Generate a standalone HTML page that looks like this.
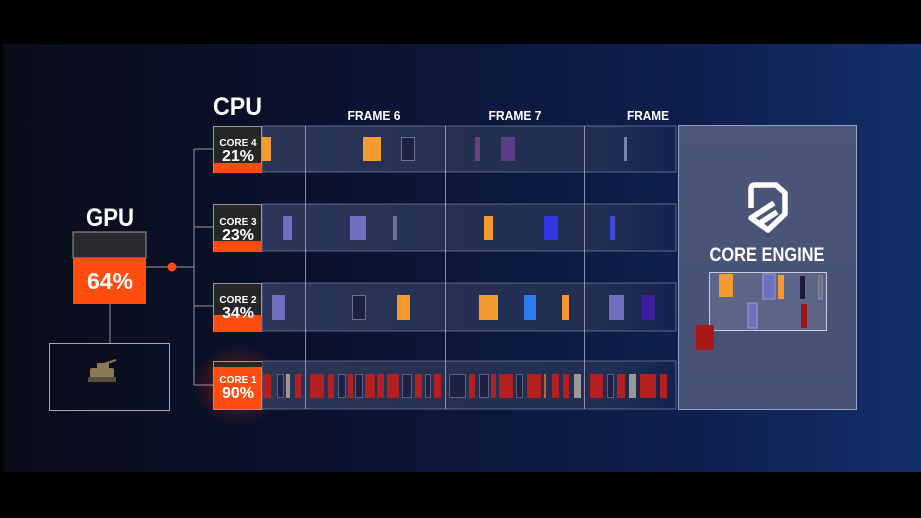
<!DOCTYPE html>
<html><head><meta charset="utf-8"><style>
html,body{margin:0;padding:0;background:#000;}
svg{display:block;font-family:"Liberation Sans",sans-serif;}
</style></head><body>
<svg width="921" height="518" viewBox="0 0 921 518" xmlns="http://www.w3.org/2000/svg">
<defs>
<linearGradient id="bg" x1="0" y1="0" x2="1" y2="0">
<stop offset="0" stop-color="#0a0c18"/><stop offset="0.35" stop-color="#0b1230"/><stop offset="0.75" stop-color="#0f1f4e"/><stop offset="1" stop-color="#14306a"/>
</linearGradient>
<linearGradient id="row" x1="0" y1="0" x2="1" y2="0">
<stop offset="0" stop-color="#2e3a5c" stop-opacity="0.9"/><stop offset="0.85" stop-color="#2e3a5c" stop-opacity="0.6"/><stop offset="1" stop-color="#2e3a5c" stop-opacity="0.15"/>
</linearGradient>
<radialGradient id="glow" cx="0.5" cy="0.5" r="0.5">
<stop offset="0" stop-color="#ff3010" stop-opacity="0.45"/><stop offset="1" stop-color="#ff3010" stop-opacity="0"/>
</radialGradient>
<linearGradient id="pan" x1="0" y1="0" x2="0" y2="1">
<stop offset="0" stop-color="#4b5679"/><stop offset="1" stop-color="#465175"/>
</linearGradient>
</defs>
<rect width="921" height="518" fill="#000"/>
<rect x="3" y="44" width="918" height="428" fill="url(#bg)"/>
<ellipse cx="238" cy="385" rx="45" ry="40" fill="url(#glow)"/>

<text x="110" y="226" fill="#fff" font-size="25" font-weight="bold" text-anchor="middle" textLength="48" lengthAdjust="spacingAndGlyphs">GPU</text>
<rect x="73" y="232" width="73" height="26" fill="#2a2a2e" stroke="#999" stroke-width="1"/>
<rect x="73" y="258" width="73" height="46" fill="#ff4d10"/>
<text x="110" y="289" fill="#fff" font-size="23" font-weight="bold" text-anchor="middle" textLength="46" lengthAdjust="spacingAndGlyphs">64%</text>
<line x1="110" y1="304" x2="110" y2="343" stroke="#999"/>
<rect x="49.5" y="343.5" width="120" height="67" fill="none" stroke="#aaa"/>
<g fill="#8a7a55"><rect x="90" y="368" width="24" height="10" rx="2"/><rect x="97" y="363" width="12" height="6"/><rect x="88" y="377" width="28" height="5" fill="#5a4f3a"/><line x1="104" y1="364" x2="116" y2="360" stroke="#8a7a55" stroke-width="2"/></g>
<line x1="146" y1="267" x2="194" y2="267" stroke="#999"/>
<circle cx="172" cy="267" r="4.5" fill="#ff4d10"/>
<line x1="194" y1="149" x2="194" y2="385" stroke="#999"/>
<g stroke="#999"><line x1="194" y1="149" x2="213" y2="149"/><line x1="194" y1="227" x2="213" y2="227"/><line x1="194" y1="306" x2="213" y2="306"/><line x1="194" y1="385" x2="213" y2="385"/></g>

<text x="213" y="115" fill="#fff" font-size="25" font-weight="bold" textLength="49" lengthAdjust="spacingAndGlyphs">CPU</text>
<g fill="#fff" font-size="13" font-weight="bold" text-anchor="middle">
<text x="374" y="120" textLength="53" lengthAdjust="spacingAndGlyphs">FRAME 6</text><text x="515" y="120" textLength="53" lengthAdjust="spacingAndGlyphs">FRAME 7</text><text x="648" y="120" textLength="42" lengthAdjust="spacingAndGlyphs">FRAME</text></g>

<g stroke="#8a93b0" stroke-width="1">
<rect x="262" y="126" width="414" height="46" fill="url(#row)" stroke-opacity="0.6"/>
<rect x="262" y="204" width="414" height="47" fill="url(#row)" stroke-opacity="0.6"/>
<rect x="262" y="283" width="414" height="48" fill="url(#row)" stroke-opacity="0.6"/>
<rect x="262" y="361" width="414" height="48" fill="url(#row)" stroke-opacity="0.6"/>
</g>
<g stroke="#b8bfd6" stroke-opacity="0.7"><line x1="305.5" y1="126" x2="305.5" y2="409"/><line x1="445.5" y1="126" x2="445.5" y2="409"/><line x1="584.5" y1="126" x2="584.5" y2="409"/></g>

<g font-weight="bold" fill="#fff" text-anchor="middle">
<rect x="213.5" y="126.5" width="48" height="46" fill="#262629" stroke="#999"/><rect x="214" y="163" width="48" height="10" fill="#ff4d10"/>
<text x="238" y="146" font-size="10">CORE 4</text><text x="238" y="161" font-size="16">21%</text>
<rect x="213.5" y="204.5" width="48" height="47" fill="#262629" stroke="#999"/><rect x="214" y="241" width="48" height="11" fill="#ff4d10"/>
<text x="238" y="225" font-size="10">CORE 3</text><text x="238" y="240" font-size="16">23%</text>
<rect x="213.5" y="283.5" width="48" height="48" fill="#262629" stroke="#999"/><rect x="214" y="315" width="48" height="17" fill="#ff4d10"/>
<text x="238" y="303" font-size="10">CORE 2</text><text x="238" y="318" font-size="16">34%</text>
<rect x="213.5" y="361.5" width="48" height="48" fill="#ff4d10" stroke="#999"/><rect x="214" y="362" width="48" height="5" fill="#262629"/>
<text x="238" y="383" font-size="10">CORE 1</text><text x="238" y="398" font-size="16">90%</text>
</g>

<g stroke-width="1">
<rect x="262" y="137" width="9" height="24" fill="#f39a30"/>
<rect x="363" y="137" width="18" height="24" fill="#f39a30"/>
<rect x="401.5" y="137.5" width="13" height="23" fill="#1e2140" stroke="#6a6f99"/>
<rect x="475" y="137" width="5" height="24" fill="#6a3f80"/>
<rect x="501" y="137" width="14" height="24" fill="#5a3f85"/>
<rect x="624" y="137" width="3" height="24" fill="#7a82b0"/>
<rect x="283" y="216" width="9" height="24" fill="#6e70c0"/>
<rect x="350" y="216" width="16" height="24" fill="#6e70c0"/>
<rect x="393" y="216" width="4" height="24" fill="#6e70a0"/>
<rect x="484" y="216" width="9" height="24" fill="#f39a30"/>
<rect x="544" y="216" width="14" height="24" fill="#3436e0"/>
<rect x="610" y="216" width="5" height="24" fill="#3f48d8"/>
<rect x="272" y="295" width="13" height="25" fill="#6e70c0"/>
<rect x="352.5" y="295.5" width="13" height="24" fill="#1e2140" stroke="#6a6f99"/>
<rect x="397" y="295" width="13" height="25" fill="#f39a30"/>
<rect x="479" y="295" width="19" height="25" fill="#f39a30"/>
<rect x="524" y="295" width="12" height="25" fill="#2f7af0"/>
<rect x="562" y="295" width="7" height="25" fill="#f39a30"/>
<rect x="609" y="295" width="15" height="25" fill="#6e70c0"/>
<rect x="642" y="295" width="13" height="25" fill="#3a1fa0"/>
</g>
<g>
<g fill="#b3201f">
<rect x="263" y="374" width="8" height="24"/><rect x="295" y="374" width="6" height="24"/><rect x="310" y="374" width="14" height="24"/><rect x="328" y="374" width="6" height="24"/><rect x="348" y="374" width="5" height="24"/><rect x="365" y="374" width="10" height="24"/><rect x="377" y="374" width="7" height="24"/><rect x="387" y="374" width="12" height="24"/><rect x="415" y="374" width="7" height="24"/><rect x="434" y="374" width="7" height="24"/><rect x="469" y="374" width="6" height="24"/><rect x="491" y="374" width="5" height="24"/><rect x="499" y="374" width="14" height="24"/><rect x="527" y="374" width="14" height="24"/><rect x="552" y="374" width="7" height="24"/><rect x="563" y="374" width="6" height="24"/><rect x="590" y="374" width="13" height="24"/><rect x="617" y="374" width="8" height="24"/><rect x="640" y="374" width="16" height="24"/><rect x="660" y="374" width="7" height="24"/>
</g>
<g fill="#1e2140" stroke="#5a5f88">
<rect x="277.5" y="374.5" width="6" height="23"/><rect x="338.5" y="374.5" width="7" height="23"/><rect x="355.5" y="374.5" width="7" height="23"/><rect x="402.5" y="374.5" width="9" height="23"/><rect x="425.5" y="374.5" width="5" height="23"/><rect x="449.5" y="374.5" width="16" height="23"/><rect x="479.5" y="374.5" width="9" height="23"/><rect x="516.5" y="374.5" width="6" height="23"/><rect x="607.5" y="374.5" width="6" height="23"/>
</g>
<g fill="#999"><rect x="286" y="374" width="4" height="24"/><rect x="574" y="374" width="7" height="24"/><rect x="629" y="374" width="7" height="24"/></g>
<rect x="544" y="374" width="2" height="24" fill="#c06030"/>
</g>

<rect x="678.5" y="125.5" width="178" height="284" fill="url(#pan)" stroke="#9aa3c4"/>
<g fill="none" stroke="#fff" stroke-width="5.5" stroke-linejoin="round">
<path d="M751 208 L751 189 Q751 185 755 185 L776 185 L785 193 L785 214 L768 230 L751 218 L774 203"/>
<path d="M760 223 L777 212"/>
</g>
<text x="767" y="261" fill="#fff" font-size="19" font-weight="bold" text-anchor="middle" textLength="115" lengthAdjust="spacingAndGlyphs">CORE ENGINE</text>
<rect x="709.5" y="272.5" width="117" height="58" fill="#5d6688" stroke="#c7cce0"/>
<rect x="719" y="274" width="14" height="23" fill="#f39a30"/>
<rect x="763" y="274" width="12" height="25" fill="#6e70c0" stroke="#9aa0d0"/>
<rect x="778" y="275" width="6" height="24" fill="#f39a30"/>
<rect x="800" y="276" width="5" height="23" fill="#1a1b3a"/>
<rect x="819" y="276" width="3" height="23" fill="none" stroke="#999"/>
<rect x="748" y="303" width="9" height="25" fill="#6e70c0" stroke="#9aa0d0"/>
<rect x="801" y="304" width="6" height="24" fill="#a01515"/>
<rect x="696" y="325" width="18" height="25" fill="#a81818"/>
</svg>
</body></html>
